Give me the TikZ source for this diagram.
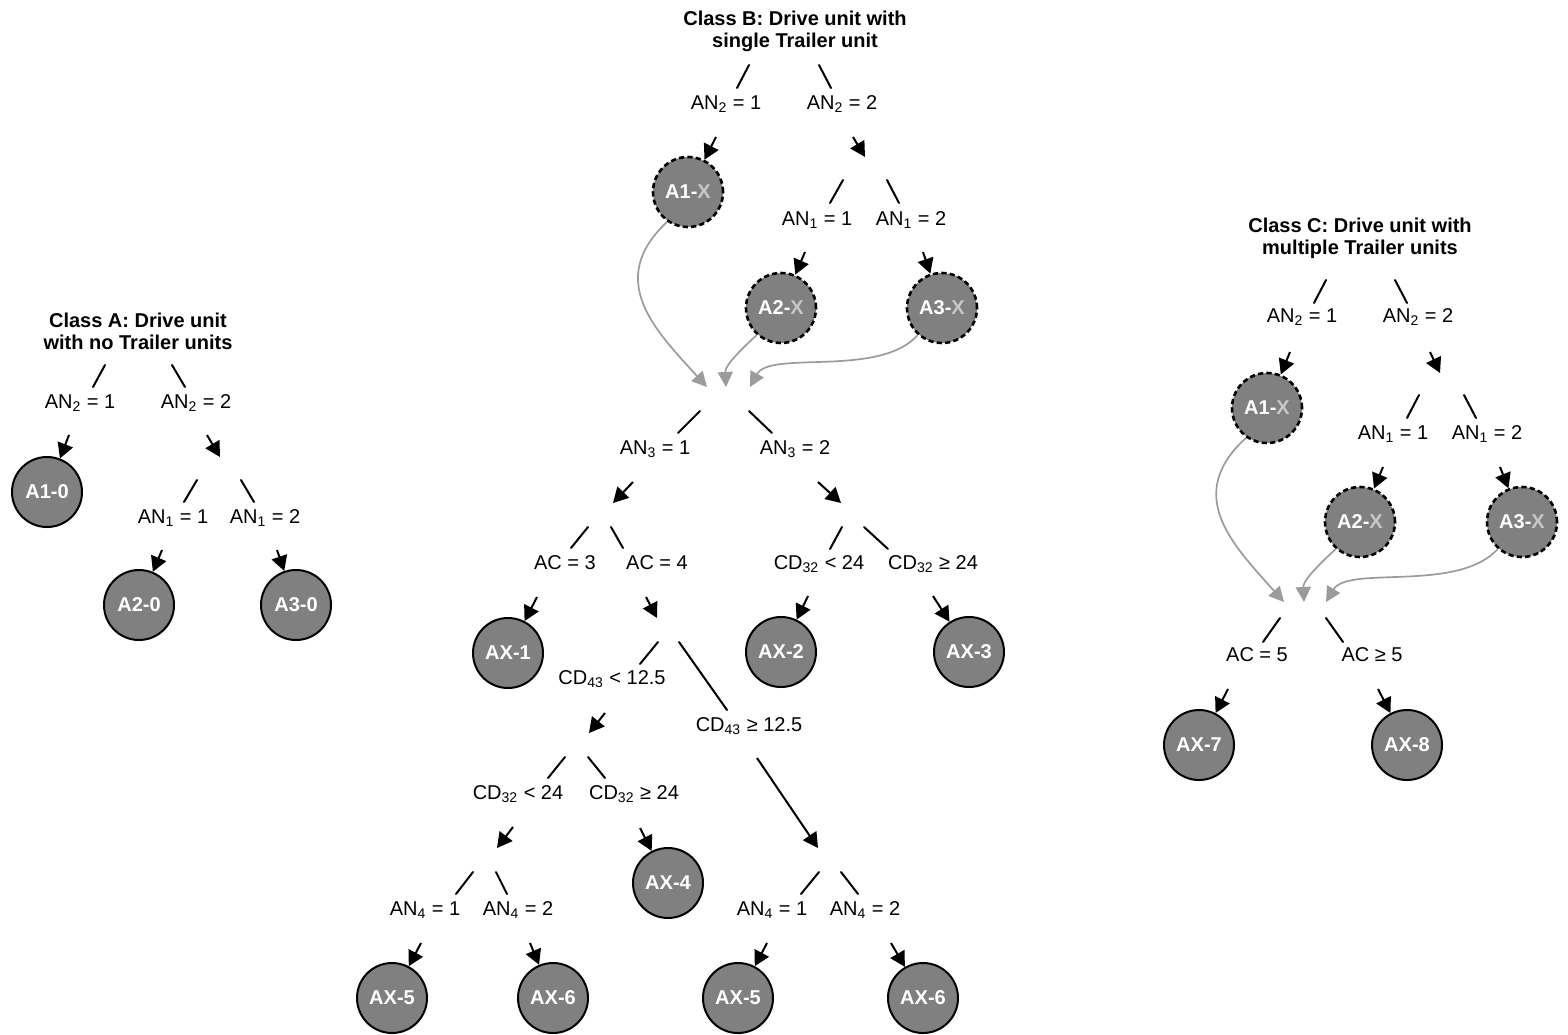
\documentclass[tikz,border=0pt]{standalone}
\usepackage{fontspec}
\setmainfont{Liberation Sans}
\usetikzlibrary{arrows.meta}
\definecolor{nodegray}{RGB}{128,128,128}
\definecolor{xgray}{RGB}{200,200,200}
\definecolor{curvegray}{RGB}{155,155,155}
\tikzset{
  lbl/.style={font=\fontsize{10}{12}\selectfont, inner sep=1pt},
  ttl/.style={font=\fontsize{10}{11}\selectfont\bfseries, align=center, inner sep=1pt},
  leaf/.style={circle, draw=black, line width=1pt, fill=nodegray, minimum size=35pt, inner sep=0pt,
    font=\fontsize{10}{12}\selectfont\bfseries, text=white},
  leafx/.style={leaf, line width=1.3pt, dash pattern=on 2.6pt off 1.6pt},
  br/.style={line width=1pt, line cap=round},
  arr/.style={line width=1pt, -{Triangle[length=7.5pt,width=8pt]}},
  garr/.style={line width=0.85pt, draw=curvegray, -{Triangle[length=7.5pt,width=7.5pt]}, fill=none},
}
\newcommand{\Xg}{\textcolor{xgray}{X}}
\begin{document}
\begin{tikzpicture}[x=0.5pt,y=-0.5pt]
\useasboundingbox (0,0) rectangle (1568,1034);

% ================= Class A =================
\node[ttl] (tA) at (138,331) {Class A: Drive unit\\with no Trailer units};
\draw[br] (105,365) -- (93,387);
\draw[br] (172,365) -- (185,387);
\node[lbl] (aL1) at (80,403) {AN\textsubscript{2} = 1};
\node[lbl] (aL2) at (196,403) {AN\textsubscript{2} = 2};
\node[leaf] (A10) at (47,492) {A1-0};
\coordinate (aS1) at (69,435);
\draw[arr] (aS1) -- (A10);
\draw[arr] (207,435) -- (220,457);
\draw[br] (197,480) -- (184,502);
\draw[br] (241,480) -- (254,502);
\node[lbl] (aL3) at (173,518) {AN\textsubscript{1} = 1};
\node[lbl] (aL4) at (265,518) {AN\textsubscript{1} = 2};
\node[leaf] (A20) at (139,605) {A2-0};
\node[leaf] (A30) at (296,605) {A3-0};
\coordinate (aS2) at (162,550);
\coordinate (aS3) at (277,550);
\draw[arr] (aS2) -- (A20);
\draw[arr] (aS3) -- (A30);

% ================= Class B =================
\node[ttl] (tB) at (795,31) {Class B: Drive unit with\\single Trailer unit};
\draw[br] (749,65) -- (737,88);
\draw[br] (819,65) -- (831,88);
\node[lbl] (bL1) at (726,104) {AN\textsubscript{2} = 1};
\node[lbl] (bL2) at (842,104) {AN\textsubscript{2} = 2};
\node[leafx] (bA1) at (688,192) {A1-\Xg};
\coordinate (bS1) at (716,137);
\draw[arr] (bS1) -- (bA1);
\draw[arr] (853,137) -- (865,157);
\draw[br] (843,180) -- (830,203);
\draw[br] (887,180) -- (899,203);
\node[lbl] (bL3) at (817,220) {AN\textsubscript{1} = 1};
\node[lbl] (bL4) at (911,220) {AN\textsubscript{1} = 2};
\node[leafx] (bA2) at (781,308) {A2-\Xg};
\node[leafx] (bA3) at (942,308) {A3-\Xg};
\coordinate (bS2) at (805,252);
\coordinate (bS3) at (923,252);
\draw[arr] (bS2) -- (bA2);
\draw[arr] (bS3) -- (bA3);
% merge curves
\coordinate (bM1) at (707,387);
\coordinate (bM2) at (726,387);
\coordinate (bM3) at (750,387);
\draw[garr] (bA1.235) .. controls (605,280) and (655,330) .. (bM1);
\draw[garr] (bA2.228) .. controls (733,357) and (725,367) .. (bM2);
\draw[garr] (bA3.228) .. controls (880,378) and (770,350) .. (bM3);
% AN3 split
\draw[br] (700,411) -- (678,433);
\draw[br] (749,411) -- (772,433);
\node[lbl] (bL5) at (655,449) {AN\textsubscript{3} = 1};
\node[lbl] (bL6) at (795,449) {AN\textsubscript{3} = 2};
\draw[arr] (633,482) -- (613,503);
\draw[arr] (818,482) -- (841,503);
% AC split
\draw[br] (588,527) -- (571,548);
\draw[br] (611,527) -- (623,548);
\node[lbl] (bL7) at (565,563) {AC = 3};
\node[lbl] (bL8) at (657,563) {AC = 4};
\node[leaf] (AX1) at (508,653) {AX-1};
\coordinate (bS4) at (537,597);
\draw[arr] (bS4) -- (AX1);
\draw[arr] (646,597) -- (657,618);
% CD43 split
\draw[br] (658,642) -- (640,664);
\draw[br] (679,642) -- (727,710);
\node[lbl] (bL9) at (612,679) {CD\textsubscript{43} < 12.5};
\node[lbl] (bL10) at (749,726) {CD\textsubscript{43} ≥ 12.5};
\draw[arr] (605,713) -- (589,733);
\draw[arr] (757,758) -- (818,848);
% CD32 split (left)
\draw[br] (565,757) -- (548,778);
\draw[br] (588,757) -- (605,778);
\node[lbl] (bL11) at (518,794) {CD\textsubscript{32} < 24};
\node[lbl] (bL12) at (634,794) {CD\textsubscript{32} ≥ 24};
\draw[arr] (513,827) -- (497,848);
\node[leaf] (AX4) at (668,883) {AX-4};
\coordinate (bS5) at (640,828);
\draw[arr] (bS5) -- (AX4);
% AN4 split (left)
\draw[br] (473,872) -- (456,894);
\draw[br] (496,872) -- (507,894);
\node[lbl] (bL13) at (425,910) {AN\textsubscript{4} = 1};
\node[lbl] (bL14) at (518,910) {AN\textsubscript{4} = 2};
\node[leaf] (AX5a) at (392,998) {AX-5};
\node[leaf] (AX6a) at (553,998) {AX-6};
\coordinate (bS6) at (421,943);
\coordinate (bS7) at (530,943);
\draw[arr] (bS6) -- (AX5a);
\draw[arr] (bS7) -- (AX6a);
% AN4 split (right)
\draw[br] (819,872) -- (801,894);
\draw[br] (841,872) -- (858,894);
\node[lbl] (bL15) at (772,910) {AN\textsubscript{4} = 1};
\node[lbl] (bL16) at (865,910) {AN\textsubscript{4} = 2};
\node[leaf] (AX5b) at (738,998) {AX-5};
\node[leaf] (AX6b) at (923,998) {AX-6};
\coordinate (bS8) at (767,943);
\coordinate (bS9) at (891,943);
\draw[arr] (bS8) -- (AX5b);
\draw[arr] (bS9) -- (AX6b);
% CD32 split (right, under AN3 = 2)
\draw[br] (842,527) -- (830,549);
\draw[br] (864,527) -- (888,549);
\node[lbl] (bL17) at (819,564) {CD\textsubscript{32} < 24};
\node[lbl] (bL18) at (933,564) {CD\textsubscript{32} ≥ 24};
\node[leaf] (AX2) at (781,652) {AX-2};
\node[leaf] (AX3) at (969,652) {AX-3};
\coordinate (bS10) at (808,596);
\coordinate (bS11) at (933,596);
\draw[arr] (bS10) -- (AX2);
\draw[arr] (bS11) -- (AX3);

% ================= Class C =================
\node[ttl] (tC) at (1360,238) {Class C: Drive unit with\\multiple Trailer units};
\draw[br] (1326,280) -- (1314,303);
\draw[br] (1395,280) -- (1407,303);
\node[lbl] (cL1) at (1302,317) {AN\textsubscript{2} = 1};
\node[lbl] (cL2) at (1418,317) {AN\textsubscript{2} = 2};
\node[leafx] (cA1) at (1267,408) {A1-\Xg};
\coordinate (cS1) at (1290,352);
\draw[arr] (cS1) -- (cA1);
\draw[arr] (1430,352) -- (1440,373);
\draw[br] (1419,395) -- (1407,418);
\draw[br] (1464,395) -- (1476,418);
\node[lbl] (cL3) at (1393,434) {AN\textsubscript{1} = 1};
\node[lbl] (cL4) at (1487,434) {AN\textsubscript{1} = 2};
\node[leafx] (cA2) at (1360,522) {A2-\Xg};
\node[leafx] (cA3) at (1522,522) {A3-\Xg};
\coordinate (cS2) at (1383,467);
\coordinate (cS3) at (1500,467);
\draw[arr] (cS2) -- (cA2);
\draw[arr] (cS3) -- (cA3);
\coordinate (cM1) at (1284,602);
\coordinate (cM2) at (1304,602);
\coordinate (cM3) at (1326,602);
\draw[garr] (cA1.235) .. controls (1183,495) and (1233,545) .. (cM1);
\draw[garr] (cA2.228) .. controls (1311,572) and (1303,582) .. (cM2);
\draw[garr] (cA3.228) .. controls (1458,593) and (1348,565) .. (cM3);
\draw[br] (1280,618) -- (1263,642);
\draw[br] (1326,618) -- (1343,642);
\node[lbl] (cL5) at (1257,655) {AC = 5};
\node[lbl] (cL6) at (1372,655) {AC ≥ 5};
\node[leaf] (AX7) at (1199,745) {AX-7};
\node[leaf] (AX8) at (1407,745) {AX-8};
\coordinate (cS4) at (1228,689);
\coordinate (cS5) at (1378,689);
\draw[arr] (cS4) -- (AX7);
\draw[arr] (cS5) -- (AX8);
\end{tikzpicture}
\end{document}
